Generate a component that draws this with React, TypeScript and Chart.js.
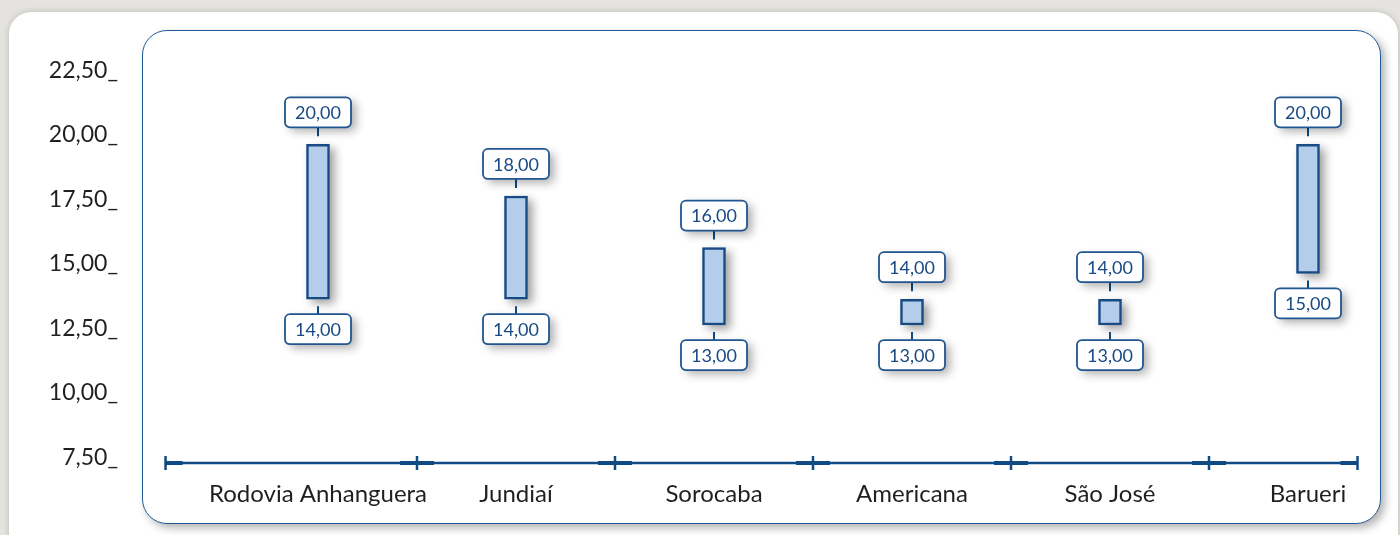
import React, { useEffect, useRef } from 'react';
import { Chart, registerables } from 'chart.js';

Chart.register(...registerables);

const categories = ['Rodovia Anhanguera', 'Jundiaí', 'Sorocaba', 'Americana', 'São José', 'Barueri'];
const lowValues = [14, 14, 13, 13, 13, 15];
const highValues = [20, 18, 16, 14, 14, 20];
const yTickValues = [7.5, 10, 12.5, 15, 17.5, 20, 22.5];
const yMin = 7.5;
const yMax = 23.5;
// x-axis line extent, in category-scale units
const axisStart = -0.77;
const axisEnd = 5.25;

const FONT = 'Lato, "Open Sans", sans-serif';
const DARK = '#0f4a85';
const fmt = (v: number) => v.toFixed(2).replace('.', ',');

function roundRect(ctx: CanvasRenderingContext2D, x: number, y: number, w: number, h: number, r: number) {
  ctx.beginPath();
  ctx.moveTo(x + r, y);
  ctx.lineTo(x + w - r, y);
  ctx.arcTo(x + w, y, x + w, y + r, r);
  ctx.lineTo(x + w, y + h - r);
  ctx.arcTo(x + w, y + h, x + w - r, y + h, r);
  ctx.lineTo(x + r, y + h);
  ctx.arcTo(x, y + h, x, y + h - r, r);
  ctx.lineTo(x, y + r);
  ctx.arcTo(x, y, x + r, y, r);
  ctx.closePath();
}

const decorPlugin = {
  id: 'decor',
  beforeDatasetsDraw(chart: any) {
    const { ctx, chartArea, scales } = chart;
    const xs = scales.x;
    const ys = scales.y;
    // y tick labels (value + underscore, underscore sitting on the tick)
    ctx.save();
    ctx.fillStyle = '#231f20';
    ctx.font = `23px ${FONT}`;
    ctx.textAlign = 'right';
    ctx.textBaseline = 'alphabetic';
    ys.ticks.forEach((t: any) => {
      const py = ys.getPixelForValue(t.value);
      ctx.fillText(fmt(t.value) + '_', 118, py - 2);
    });
    ctx.restore();

    const y = chartArea.bottom - 4;
    const x0 = xs.getPixelForValue(axisStart);
    const x1 = xs.getPixelForValue(axisEnd);
    ctx.save();
    ctx.strokeStyle = DARK;
    ctx.lineWidth = 2.5;
    ctx.beginPath();
    ctx.moveTo(x0, y);
    ctx.lineTo(x1, y);
    ctx.stroke();
    const marks: number[] = [x0];
    for (let i = 0; i < categories.length - 1; i++) marks.push(xs.getPixelForValue(i + 0.5));
    marks.push(x1);
    marks.forEach((mx, idx) => {
      ctx.lineWidth = 2.5;
      ctx.beginPath();
      ctx.moveTo(mx, y - 7);
      ctx.lineTo(mx, y + 7);
      ctx.stroke();
      ctx.lineWidth = 4;
      ctx.beginPath();
      const l = idx === 0 ? mx : mx - 17;
      const r = idx === marks.length - 1 ? mx : mx + 17;
      ctx.moveTo(l, y);
      ctx.lineTo(r, y);
      ctx.stroke();
    });
    ctx.restore();

    // soft shadows under the bars
    const meta = chart.getDatasetMeta(0);
    ctx.save();
    ctx.shadowColor = 'rgba(0,0,0,0.38)';
    ctx.shadowBlur = 10;
    ctx.shadowOffsetX = 5;
    ctx.shadowOffsetY = 4;
    ctx.fillStyle = '#b3cdeb';
    meta.data.forEach((el: any) => {
      const top = Math.min(el.y, el.base);
      const bottom = Math.max(el.y, el.base);
      ctx.fillRect(el.x - el.width / 2, top, el.width, bottom - top);
    });
    ctx.restore();
  },
  afterDatasetsDraw(chart: any) {
    const { ctx } = chart;
    const meta = chart.getDatasetMeta(0);
    const w = 66;
    const h = 30;
    meta.data.forEach((el: any, i: number) => {
      const top = Math.min(el.y, el.base);
      const bottom = Math.max(el.y, el.base);
      const cx = el.x;
      const boxes = [
        { y: top - 17 - h, c0: top - 17, c1: top - 8, text: fmt(highValues[i]) },
        { y: bottom + 15, c0: bottom + 7, c1: bottom + 15, text: fmt(lowValues[i]) },
      ];
      boxes.forEach((b) => {
        ctx.save();
        ctx.strokeStyle = DARK;
        ctx.lineWidth = 2;
        ctx.beginPath();
        ctx.moveTo(cx, b.c0);
        ctx.lineTo(cx, b.c1);
        ctx.stroke();
        ctx.shadowColor = 'rgba(0,0,0,0.32)';
        ctx.shadowBlur = 10;
        ctx.shadowOffsetX = 5;
        ctx.shadowOffsetY = 4;
        roundRect(ctx, cx - w / 2, b.y, w, h, 5);
        ctx.fillStyle = '#ffffff';
        ctx.fill();
        ctx.shadowColor = 'transparent';
        ctx.lineWidth = 1.8;
        ctx.strokeStyle = '#1f5590';
        ctx.stroke();
        ctx.fillStyle = '#1a4a84';
        ctx.font = `18px ${FONT}`;
        ctx.textAlign = 'center';
        ctx.textBaseline = 'middle';
        ctx.fillText(b.text, cx, b.y + h / 2 + 1);
        ctx.restore();
      });
    });
  },
};

export default function App() {
  const ref = useRef<HTMLCanvasElement | null>(null);
  useEffect(() => {
    if (!ref.current) return;
    const chart = new Chart(ref.current, {
      type: 'bar',
      data: {
        labels: categories,
        datasets: [
          {
            data: lowValues.map((lo, i) => [lo, highValues[i]]) as any,
            backgroundColor: '#b3cdeb',
            borderColor: '#184a84',
            borderWidth: 2.5,
            borderSkipped: false,
            barThickness: 23,
            clip: false as any,
          },
        ],
      },
      options: {
        responsive: false,
        animation: false,
        layout: { padding: { top: 54, right: 92, left: 0, bottom: 0 } },
        plugins: { legend: { display: false }, tooltip: { enabled: false } },
        scales: {
          x: {
            type: 'category',
            offset: false,
            grid: { display: false, drawTicks: false },
            border: { display: false },
            ticks: {
              padding: 13,
              color: '#231f20',
              font: { family: FONT, size: 24 },
              maxRotation: 0,
              autoSkip: false,
            },
            afterFit: (s: any) => {
              s.height = 68;
            },
          },
          y: {
            min: yMin,
            max: yMax,
            grid: { display: false, drawTicks: false },
            border: { display: false },
            afterBuildTicks: (s: any) => {
              s.ticks = yTickValues.map((v) => ({ value: v }));
            },
            ticks: { display: false, padding: 0 },
            afterFit: (s: any) => {
              s.width = 318;
            },
          },
        },
      },
      plugins: [decorPlugin],
    });
    return () => chart.destroy();
  }, []);

  return (
    <div style={{ position: 'fixed', left: 0, top: 0, width: 1400, height: 535, background: '#e4e3df', overflow: 'hidden' }}>
      <div
        style={{
          position: 'absolute',
          left: 9,
          top: 12,
          width: 1389,
          height: 600,
          background: '#ffffff',
          borderRadius: 22,
          boxShadow: '0 0 6px rgba(0,0,0,0.18)',
        }}
      />
      <div
        style={{
          position: 'absolute',
          left: 142,
          top: 30,
          width: 1239,
          height: 494,
          boxSizing: 'border-box',
          background: '#ffffff',
          border: '1.5px solid #1f5a96',
          borderRadius: 25,
          boxShadow: '4px 4px 8px rgba(0,0,0,0.3)',
        }}
      />
      <canvas ref={ref} width={1400} height={535} style={{ position: 'absolute', left: 0, top: 0 }} />
    </div>
  );
}
